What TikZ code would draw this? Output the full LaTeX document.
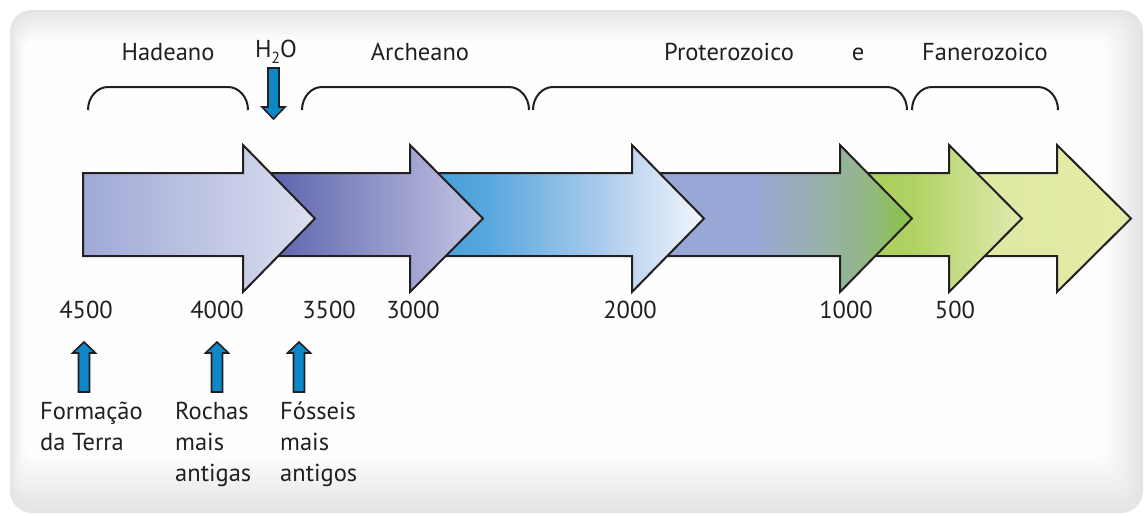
\documentclass[tikz,border=0pt]{standalone}
\usepackage{fontspec}
\setmainfont{PT Sans}

% text and line colours
\definecolor{ink}{HTML}{231F20}
\definecolor{panelgray}{HTML}{E3E4E6}
\definecolor{markblue}{HTML}{0D87C8}

% colours of the six era arrows
\definecolor{aAl}{HTML}{9FA9D6}\definecolor{aAr}{HTML}{DCDFF0}
\definecolor{aBl}{HTML}{4F57A7}\definecolor{aBr}{HTML}{C4C5E3}
\definecolor{aCl}{HTML}{3E9BD8}\definecolor{aCm}{HTML}{57A7DD}
\definecolor{aCn}{HTML}{A8CAEB}\definecolor{aCr}{HTML}{F3F5FB}
\definecolor{aDl}{HTML}{99A7D6}\definecolor{aDm}{HTML}{98AEB8}
\definecolor{aDn}{HTML}{93B68E}\definecolor{aDr}{HTML}{8DC04F}
\definecolor{aEl}{HTML}{A5CC55}\definecolor{aEm}{HTML}{B0D263}\definecolor{aEr}{HTML}{E0EBB0}
\definecolor{aFl}{HTML}{DEE8A0}\definecolor{aFr}{HTML}{E4EBA8}

% left-to-right shadings; 25bp and 75bp are the left and right ends of a path
\pgfdeclarehorizontalshading{eraA}{100bp}{color(0bp)=(aAl); color(25bp)=(aAl); color(75bp)=(aAr); color(100bp)=(aAr)}
\pgfdeclarehorizontalshading{eraB}{100bp}{color(0bp)=(aBl); color(25bp)=(aBl); color(75bp)=(aBr); color(100bp)=(aBr)}
\pgfdeclarehorizontalshading{eraC}{100bp}{color(0bp)=(aCl); color(25bp)=(aCl); color(38bp)=(aCm); color(57bp)=(aCn); color(75bp)=(aCr); color(100bp)=(aCr)}
\pgfdeclarehorizontalshading{eraD}{100bp}{color(0bp)=(aDl); color(25bp)=(aDl); color(47bp)=(aDl); color(55bp)=(aDm); color(65.7bp)=(aDn); color(73.4bp)=(aDr); color(100bp)=(aDr)}
\pgfdeclarehorizontalshading{eraE}{100bp}{color(0bp)=(aEl); color(25bp)=(aEl); color(45bp)=(aEm); color(75bp)=(aEr); color(100bp)=(aEr)}
\pgfdeclarehorizontalshading{eraF}{100bp}{color(0bp)=(aFl); color(25bp)=(aFl); color(75bp)=(aFr); color(100bp)=(aFr)}

% big era arrow: body start, head base, tip
\newcommand\eraarrow[4]{%
  \draw[bigarrow, shading=#4] (#1,173) -- (#2,173) -- (#2,145) -- (#3,218.5)
    -- (#2,292) -- (#2,256) -- (#1,256) -- cycle;}
% small blue marker arrow pointing up, centred on x
\newcommand\upmark[1]{%
  \draw[markarrow] (#1-5.5,392) -- (#1-5.5,353) -- (#1-11.5,353) -- (#1,342)
    -- (#1+11.5,353) -- (#1+5.5,353) -- (#1+5.5,392) -- cycle;}
% bracket over an era, from x1 to x2
\newcommand\erabrace[2]{%
  \draw[brace] (#1,110) .. controls (#1,97.3) and (#1+9,87) .. (#1+20,87)
    -- (#2-20,87) .. controls (#2-9,87) and (#2,97.3) .. (#2,110);}

\begin{document}
\begin{tikzpicture}[x=1pt,y=-1pt,
  lbl/.style={font=\fontsize{24.5pt}{31pt}\selectfont, text=ink, inner sep=0pt},
  bigarrow/.style={draw=ink, line width=2pt, line join=miter},
  markarrow/.style={draw=ink, line width=1.6pt, fill=markblue, line join=miter},
  brace/.style={draw=ink, line width=2pt}]

\useasboundingbox (0,0) rectangle (1144,515);
\fill[white] (0,0) rectangle (1144,515);

% panel with soft grey rim
\foreach \i in {0,...,24}{
  \pgfmathsetmacro\mix{100-4*\i}
  \fill[panelgray!\mix!white, rounded corners={22pt-0.4pt*\i}]
    (10+0.6*\i,10+1.25*\i) rectangle (1143-1.6*\i,513-2.4*\i);
}

% era brackets
\erabrace{88}{248}
\erabrace{302}{529}
\erabrace{533}{907}
\erabrace{912}{1058}

% era names
\node[lbl, anchor=base] (hadeano) at (168,60) {Hadeano};
\node[lbl, anchor=base] (agua) at (276,57) {H\raisebox{-6.5pt}{\fontsize{16pt}{16pt}\selectfont 2}O};
\node[lbl, anchor=base] (archeano) at (420,60) {Archeano};
\node[lbl, anchor=base] (proterozoico) at (729,60) {Proterozoico};
\node[lbl, anchor=base] (conj) at (858,60) {e};
\node[lbl, anchor=base] (fanerozoico) at (985,60) {Fanerozoico};

% water marker
\draw[markarrow] (268,68) -- (279,68) -- (279,107) -- (285,107) -- (273.5,119)
  -- (262,107) -- (268,107) -- cycle;

% time arrows, drawn back to front
\eraarrow{949}{1057}{1131}{eraF}
\eraarrow{840}{949}{1022}{eraE}
\eraarrow{632}{840}{912}{eraD}
\eraarrow{410}{632}{704}{eraC}
\eraarrow{243}{410}{483}{eraB}
\eraarrow{83}{243}{315}{eraA}

% ages (millions of years)
\node[lbl, anchor=base] (m4500) at (86,318) {4500};
\node[lbl, anchor=base] (m4000) at (217,318) {4000};
\node[lbl, anchor=base] (m3500) at (329,318) {3500};
\node[lbl, anchor=base] (m3000) at (413,318) {3000};
\node[lbl, anchor=base] (m2000) at (630,318) {2000};
\node[lbl, anchor=base] (m1000) at (846,318) {1000};
\node[lbl, anchor=base] (m500) at (955,318) {500};

% events (the base anchor sits on the last line)
\upmark{84}
\upmark{217}
\upmark{299}
\node[lbl, anchor=base west, align=left] (terra) at (40,450) {Formação\\da Terra};
\node[lbl, anchor=base west, align=left] (rochas) at (175,481) {Rochas\\mais\\antigas};
\node[lbl, anchor=base west, align=left] (fosseis) at (280,481) {Fósseis\\mais\\antigos};
\end{tikzpicture}
\end{document}
